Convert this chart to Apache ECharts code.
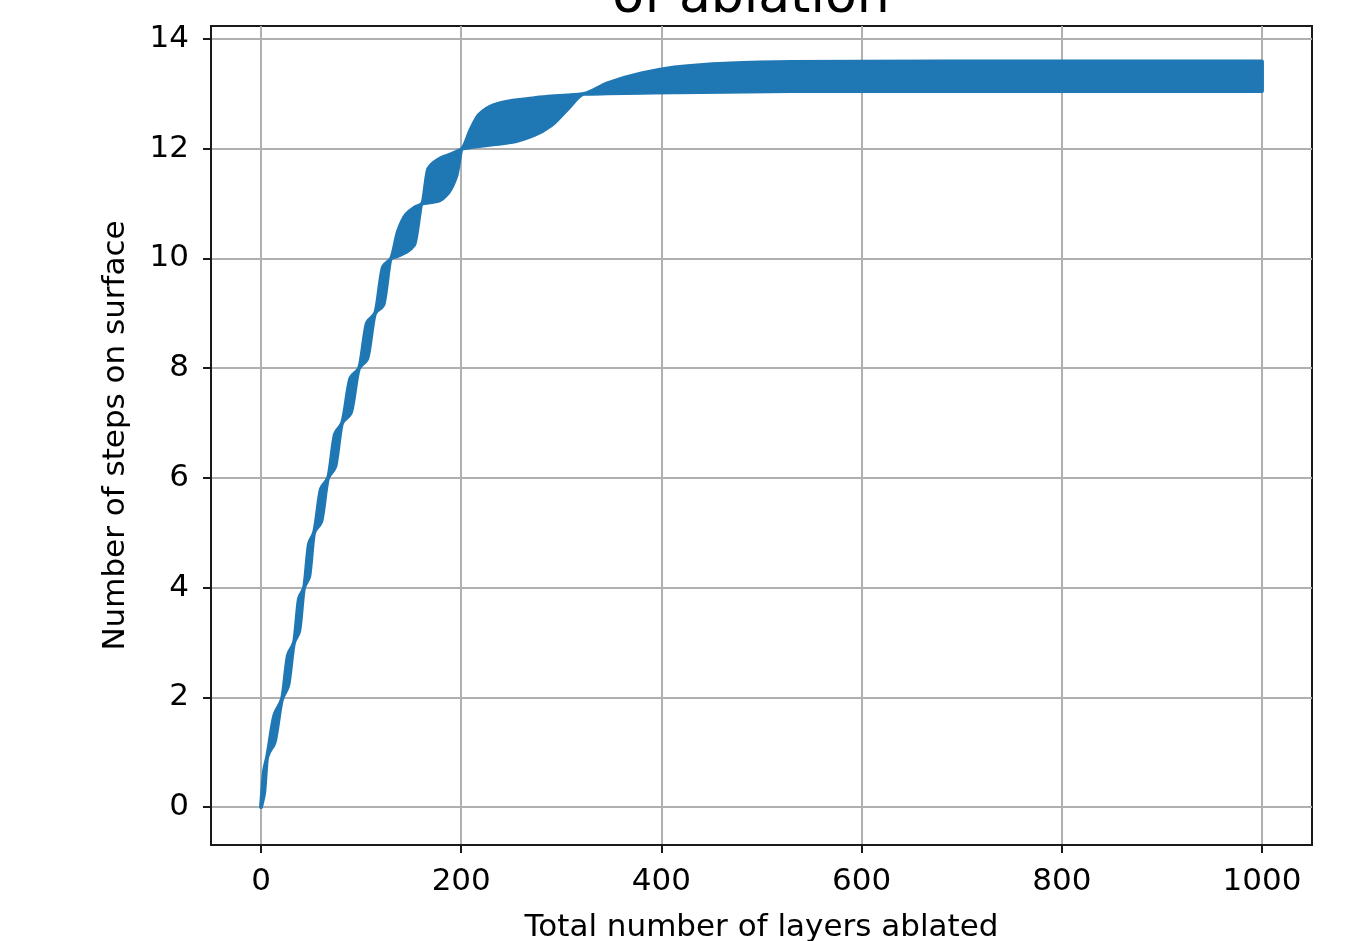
<!DOCTYPE html>
<html>
<head>
<meta charset="utf-8">
<script src="https://cdn.jsdelivr.net/npm/echarts@6/dist/echarts.min.js"></script>
<style>
html,body{margin:0;padding:0;background:#fff;}
#chart{width:1363px;height:941px;}
</style>
</head>
<body>
<div id="chart"></div>
<script>
// Layers ablated (x) and the band's lower / upper envelope (steps on surface)
const layers = [0, 3, 6, 13.5, 21, 27, 33, 38, 43, 48, 53, 60, 67, 74, 81, 89.5, 98, 106, 114, 122, 130, 137, 145, 153, 161, 167, 177, 187, 195, 201, 210, 218, 232, 250, 273, 290, 306, 323, 346, 380, 413, 463, 530, 680, 1000];
const stepsLower = [0, 0.25, 0.9, 1.18, 1.97, 2.21, 3.0, 3.2, 4.0, 4.2, 5.0, 5.2, 6.0, 6.2, 7.0, 7.18, 8.0, 8.17, 9.0, 9.15, 10.0, 10.05, 10.12, 10.25, 11.0, 11.02, 11.05, 11.2, 11.5, 12.0, 12.03, 12.05, 12.08, 12.12, 12.25, 12.43, 12.72, 13.0, 13.01, 13.02, 13.03, 13.04, 13.05, 13.05, 13.05];
const stepsUpper = [0, 0.65, 0.9, 1.68, 1.97, 2.77, 3.0, 3.8, 4.0, 4.8, 5.0, 5.8, 6.0, 6.8, 7.0, 7.82, 8.0, 8.83, 9.0, 9.85, 10.0, 10.5, 10.8, 10.92, 11.0, 11.63, 11.8, 11.88, 11.94, 12.0, 12.37, 12.62, 12.79, 12.87, 12.92, 12.95, 12.97, 13.0, 13.19, 13.37, 13.48, 13.55, 13.58, 13.59, 13.59];
const xTicks = [0, 200, 400, 600, 800, 1000];
const yTicks = [0, 2, 4, 6, 8, 10, 12, 14];

const titleText = 'of ablation';
const xName = 'Total number of layers ablated';
const yName = 'Number of steps on surface';

const blue = '#1f77b4';
const font = 'DejaVu Sans';

const bandRows = layers.map((x, i) => [x, stepsLower[i], stepsUpper[i]]);

// Monotone cubic (Fritsch-Carlson) bezier segments through pixel points
function monoSegments(p) {
  const n = p.length;
  const h = [], d = [], m = new Array(n);
  for (let k = 0; k < n - 1; k++) {
    h[k] = p[k + 1][0] - p[k][0];
    d[k] = h[k] === 0 ? 0 : (p[k + 1][1] - p[k][1]) / h[k];
  }
  m[0] = d[0]; m[n - 1] = d[n - 2];
  for (let k = 1; k < n - 1; k++) {
    if (d[k - 1] * d[k] <= 0) { m[k] = 0; }
    else {
      const w1 = 2 * h[k] + h[k - 1], w2 = h[k] + 2 * h[k - 1];
      m[k] = (w1 + w2) / (w1 / d[k - 1] + w2 / d[k]);
    }
  }
  const segs = [];
  for (let k = 0; k < n - 1; k++) {
    segs.push([
      p[k],
      [p[k][0] + h[k] / 3, p[k][1] + m[k] * h[k] / 3],
      [p[k + 1][0] - h[k] / 3, p[k + 1][1] - m[k + 1] * h[k] / 3],
      p[k + 1]
    ]);
  }
  return segs;
}

function renderBand(params, api) {
  if (params.dataIndex !== 0) return null;
  const up = bandRows.map(r => api.coord([r[0], r[2]]));
  const lo = bandRows.map(r => api.coord([r[0], r[1]]));
  const su = monoSegments(up), sl = monoSegments(lo);
  const f = v => v[0].toFixed(2) + ' ' + v[1].toFixed(2);
  let path = 'M ' + f(up[0]);
  su.forEach(s => { path += ' C ' + f(s[1]) + ' ' + f(s[2]) + ' ' + f(s[3]); });
  path += ' L ' + f(lo[lo.length - 1]);
  for (let k = sl.length - 1; k >= 0; k--) {
    const s = sl[k];
    path += ' C ' + f(s[2]) + ' ' + f(s[1]) + ' ' + f(s[0]);
  }
  path += ' Z';
  return {
    type: 'path',
    shape: {pathData: path},
    style: {fill: blue, stroke: blue, lineWidth: 4, lineJoin: 'round'}
  };
}

const chart = echarts.init(document.getElementById('chart'), null, {renderer: 'canvas'});
chart.setOption({
  animation: false,
  backgroundColor: '#fff',
  title: {
    text: titleText,
    left: 746, top: -33,
    textAlign: 'center',
    textStyle: {fontFamily: font, fontSize: 52, fontWeight: 'normal', color: '#000'}
  },
  grid: {
    left: 211, top: 26, width: 1101, height: 819,
    outerBoundsMode: 'none', containLabel: false,
    show: true, borderColor: '#1a1a1a', borderWidth: 2, backgroundColor: 'transparent'
  },
  xAxis: {
    type: 'value', min: -50, max: 1050,
    name: xName, nameLocation: 'middle', nameGap: 67,
    nameTextStyle: {fontFamily: font, fontSize: 31, color: '#000'},
    axisLine: {show: true, onZero: false, lineStyle: {color: '#1a1a1a', width: 2}},
    axisTick: {show: true, customValues: xTicks, length: 8, lineStyle: {color: '#1a1a1a', width: 2}},
    axisLabel: {customValues: xTicks, margin: 21, fontFamily: font, fontSize: 31, color: '#000',
      formatter: v => String(v)},
    splitLine: {show: true, lineStyle: {color: '#b0b0b0', width: 2}}
  },
  yAxis: {
    type: 'value', min: -0.693, max: 14.237,
    name: yName, nameLocation: 'middle', nameGap: 80, nameRotate: 90,
    nameTextStyle: {fontFamily: font, fontSize: 31, color: '#000'},
    axisLine: {show: true, onZero: false, lineStyle: {color: '#1a1a1a', width: 2}},
    axisTick: {show: true, customValues: yTicks, length: 8, lineStyle: {color: '#1a1a1a', width: 2}},
    axisLabel: {customValues: yTicks, margin: 22, fontFamily: font, fontSize: 31, color: '#000',
      formatter: v => String(v)},
    splitLine: {show: true, lineStyle: {color: '#b0b0b0', width: 2}}
  },
  series: [
    {
      name: 'steps', type: 'custom', data: bandRows,
      encode: {x: 0, y: [1, 2]},
      renderItem: renderBand, z: 3, clip: true
    }
  ]
});
</script>
</body>
</html>
